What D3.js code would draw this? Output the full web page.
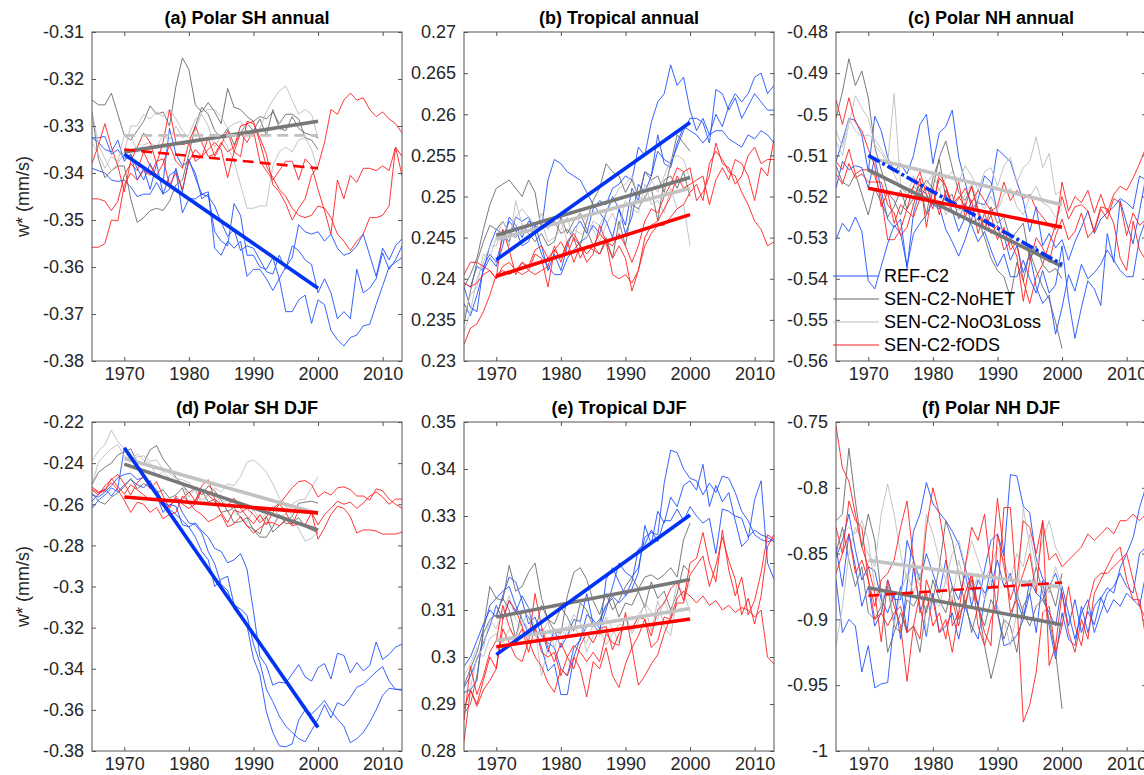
<!DOCTYPE html>
<html>
<head>
<meta charset="utf-8">
<script src="https://cdn.jsdelivr.net/npm/d3@7/dist/d3.min.js"></script>
<style>
  body { margin: 0; background: #fff; }
  svg { display: block; }
</style>
</head>
<body>
<div id="chart"></div>
<script>
// years: REF-C2 and fODS run 1965-2013, NoHET / NoO3Loss stop in 2000
const yearsFull = d3.range(1965, 2014);
const yearsShort = d3.range(1965, 2001);
const trendYears = [1970, 2000];
const xTicks = [1970, 1980, 1990, 2000, 2010];
const experiments = ['REF-C2', 'SEN-C2-NoHET', 'SEN-C2-NoO3Loss', 'SEN-C2-fODS'];
const titles = ['(a) Polar SH annual', '(b) Tropical annual', '(c) Polar NH annual',
                '(d) Polar SH DJF', '(e) Tropical DJF', '(f) Polar NH DJF'];
const yDomains = [[-0.38, -0.31], [0.23, 0.27], [-0.56, -0.48], [-0.38, -0.22], [0.28, 0.35], [-1, -0.75]];
const yTickSteps = [0.01, 0.005, 0.01, 0.02, 0.01, 0.05];

// ---- (a) Polar SH annual
const aREF = [
  [-0.3325,-0.3325,-0.3322,-0.336,-0.335,-0.337,-0.336,-0.339,-0.3415,-0.338,
   -0.341,-0.342,-0.3305,-0.336,-0.3385,-0.3375,-0.340,-0.3455,-0.3445,-0.3525,
   -0.3545,-0.3555,-0.3465,-0.349,-0.3575,-0.3575,-0.360,-0.3605,-0.358,-0.3625,
   -0.360,-0.358,-0.351,-0.3525,-0.353,-0.3525,-0.3545,-0.353,-0.356,-0.3575,
   -0.357,-0.3555,-0.353,-0.3575,-0.362,-0.356,-0.3585,-0.3555,-0.354],
  [-0.339,-0.3395,-0.340,-0.3415,-0.3418,-0.3415,-0.343,-0.345,-0.3445,-0.3445,
   -0.342,-0.3445,-0.3405,-0.3395,-0.3485,-0.3455,-0.3455,-0.3445,-0.344,-0.356,
   -0.3575,-0.3545,-0.356,-0.3545,-0.362,-0.3605,-0.3605,-0.3625,-0.365,-0.3625,
   -0.3695,-0.3695,-0.367,-0.366,-0.372,-0.367,-0.368,-0.3735,-0.3755,-0.3768,
   -0.375,-0.3745,-0.3725,-0.3722,-0.368,-0.364,-0.360,-0.359,-0.358],
  [-0.3325,-0.3335,-0.335,-0.3355,-0.333,-0.3375,-0.336,-0.3415,-0.339,-0.3435,
   -0.338,-0.3445,-0.3435,-0.339,-0.344,-0.337,-0.341,-0.3445,-0.345,-0.347,
   -0.3505,-0.3535,-0.352,-0.3565,-0.3555,-0.356,-0.3585,-0.361,-0.3615,-0.3575,
   -0.3605,-0.3555,-0.3565,-0.3585,-0.3595,-0.3655,-0.3625,-0.3655,-0.371,-0.3695,
   -0.371,-0.3605,-0.3655,-0.3645,-0.3625,-0.357,-0.3605,-0.3585,-0.3555]
];
const aNoHET = [
  [-0.3245,-0.3255,-0.3255,-0.323,-0.3275,-0.332,-0.333,-0.331,-0.329,-0.3257,
   -0.3275,-0.327,-0.330,-0.3215,-0.3155,-0.318,-0.3255,-0.327,-0.325,-0.327,
   -0.3295,-0.322,-0.326,-0.3265,-0.328,-0.329,-0.328,-0.3285,-0.327,-0.3295,
   -0.3275,-0.3275,-0.3285,-0.3325,-0.333,-0.335],
  [-0.327,-0.337,-0.341,-0.3395,-0.3385,-0.3385,-0.3455,-0.3505,-0.3495,-0.348,
   -0.3475,-0.348,-0.346,-0.3425,-0.3415,-0.336,-0.330,-0.326,-0.3275,-0.331,
   -0.3325,-0.3305,-0.334,-0.3315,-0.3295,-0.331,-0.3285,-0.332,-0.3265,-0.3305,
   -0.331,-0.328,-0.3305,-0.3315,-0.332,-0.3325]
];
const aNoO3 = [
  [-0.327,-0.334,-0.337,-0.3395,-0.338,-0.3355,-0.330,-0.330,-0.3275,-0.3285,
   -0.327,-0.328,-0.3265,-0.3285,-0.331,-0.3325,-0.331,-0.327,-0.3265,-0.3265,
   -0.328,-0.3305,-0.3295,-0.329,-0.331,-0.332,-0.3305,-0.327,-0.3245,-0.3225,
   -0.3215,-0.3245,-0.3275,-0.3265,-0.3275,-0.3325],
  [-0.3335,-0.336,-0.339,-0.3365,-0.3375,-0.332,-0.332,-0.3355,-0.334,-0.3335,
   -0.3345,-0.332,-0.333,-0.330,-0.3325,-0.332,-0.3285,-0.3275,-0.330,-0.3345,
   -0.332,-0.3345,-0.3375,-0.3425,-0.3475,-0.3475,-0.347,-0.347,-0.3385,-0.3355,
   -0.3345,-0.3355,-0.333,-0.3325,-0.335,-0.3395]
];
const aFODS = [
  [-0.338,-0.334,-0.3295,-0.3345,-0.3385,-0.344,-0.3375,-0.3345,-0.3315,-0.3335,
   -0.338,-0.3335,-0.3265,-0.3335,-0.334,-0.3335,-0.330,-0.3335,-0.3365,-0.336,
   -0.3335,-0.3355,-0.3345,-0.330,-0.3295,-0.329,-0.3335,-0.3385,-0.341,-0.3435,
   -0.345,-0.3475,-0.349,-0.3495,-0.349,-0.347,-0.3475,-0.3495,-0.353,-0.3545,
   -0.3565,-0.3545,-0.353,-0.3495,-0.3495,-0.349,-0.347,-0.3345,-0.3365],
  [-0.3558,-0.3558,-0.355,-0.350,-0.3502,-0.3425,-0.340,-0.3415,-0.3395,-0.3405,
   -0.3375,-0.337,-0.3425,-0.340,-0.3435,-0.3375,-0.335,-0.3365,-0.335,-0.3335,
   -0.335,-0.341,-0.3355,-0.3365,-0.329,-0.3295,-0.3325,-0.336,-0.3425,-0.344,
   -0.3465,-0.350,-0.3475,-0.3455,-0.3405,-0.3385,-0.3335,-0.3265,-0.3275,-0.3245,
   -0.323,-0.3245,-0.324,-0.3265,-0.328,-0.327,-0.3285,-0.3295,-0.3315],
  [-0.3455,-0.3455,-0.346,-0.348,-0.346,-0.3405,-0.338,-0.3395,-0.3355,-0.3385,
   -0.3405,-0.338,-0.334,-0.3375,-0.339,-0.3335,-0.3375,-0.3365,-0.3325,-0.3365,
   -0.334,-0.331,-0.3355,-0.3315,-0.3335,-0.331,-0.3375,-0.3395,-0.3415,-0.3395,
   -0.3375,-0.3375,-0.3415,-0.337,-0.3385,-0.3435,-0.348,-0.353,-0.3415,-0.3455,
   -0.3405,-0.342,-0.339,-0.339,-0.3395,-0.3385,-0.3395,-0.3345,-0.3405]
];
// trend 1970 -> 2000 for REF, NoHET, NoO3Loss, fODS; sig: 1 significant, 0 not, 2 borderline
const aTrend = [[-0.336, -0.3645], [-0.3355, -0.329], [-0.332, -0.332], [-0.335, -0.339]];
const aSig = [1, 1, 0, 0];

// ---- (b) Tropical annual
const bREF = [
  [0.2390,0.2365,0.2360,0.2415,0.2430,0.2420,0.2450,0.2470,0.2460,0.2440,
   0.2445,0.2465,0.2440,0.2410,0.2430,0.2410,0.2440,0.2460,0.2470,0.2455,
   0.2485,0.2495,0.2490,0.2510,0.2515,0.2525,0.2520,0.2560,0.2550,0.2590,
   0.2615,0.2625,0.2660,0.2635,0.2645,0.2605,0.2580,0.2595,0.2575,0.2600,
   0.2585,0.2610,0.2625,0.2615,0.2625,0.2645,0.2650,0.2625,0.2635],
  [0.2395,0.2390,0.2415,0.2410,0.2425,0.2415,0.2440,0.2475,0.2465,0.2450,
   0.2470,0.2465,0.2460,0.2520,0.2545,0.2540,0.2530,0.2525,0.2520,0.2505,
   0.2490,0.2480,0.2470,0.2450,0.2485,0.2455,0.2475,0.2515,0.2505,0.2525,
   0.2555,0.2545,0.2540,0.2560,0.2580,0.2595,0.2595,0.2590,0.2565,0.2630,
   0.2625,0.2605,0.2620,0.2595,0.2610,0.2625,0.2615,0.2605,0.2605],
  [0.2370,0.2355,0.2380,0.2410,0.2440,0.2460,0.2455,0.2445,0.2475,0.2470,
   0.2475,0.2455,0.2430,0.2415,0.2405,0.2405,0.2425,0.2435,0.2445,0.2450,
   0.2465,0.2455,0.2480,0.2500,0.2485,0.2465,0.2510,0.2495,0.2530,0.2525,
   0.2575,0.2540,0.2535,0.2565,0.2585,0.2580,0.2575,0.2565,0.2575,0.2580,
   0.2580,0.2570,0.2565,0.2560,0.2575,0.2570,0.2580,0.2575,0.2565]
];
const bNoHET = [
  [0.2390,0.2405,0.2425,0.2460,0.2490,0.2510,0.2515,0.2520,0.2510,0.2500,
   0.2520,0.2505,0.2460,0.2465,0.2470,0.2455,0.2460,0.2450,0.2440,0.2470,
   0.2495,0.2510,0.2540,0.2530,0.2525,0.2505,0.2520,0.2500,0.2530,0.2520,
   0.2525,0.2505,0.2540,0.2575,0.2565,0.2555],
  [0.2345,0.2385,0.2420,0.2445,0.2465,0.2460,0.2470,0.2455,0.2450,0.2460,
   0.2455,0.2445,0.2455,0.2440,0.2445,0.2475,0.2455,0.2470,0.2480,0.2460,
   0.2440,0.2430,0.2450,0.2425,0.2470,0.2440,0.2490,0.2485,0.2500,0.2510,
   0.2470,0.2520,0.2525,0.2510,0.2530,0.2500]
];
const bNoO3 = [
  [0.2335,0.2360,0.2400,0.2420,0.2440,0.2440,0.2460,0.2440,0.2495,0.2465,
   0.2465,0.2455,0.2480,0.2460,0.2475,0.2470,0.2445,0.2460,0.2455,0.2450,
   0.2470,0.2465,0.2480,0.2495,0.2510,0.2515,0.2525,0.2500,0.2495,0.2520,
   0.2505,0.2525,0.2545,0.2550,0.2545,0.2520],
  [0.2355,0.2380,0.2390,0.2430,0.2425,0.2450,0.2470,0.2455,0.2475,0.2485,
   0.2475,0.2465,0.2470,0.2445,0.2450,0.2460,0.2475,0.2445,0.2480,0.2470,
   0.2460,0.2445,0.2465,0.2480,0.2460,0.2495,0.2485,0.2480,0.2515,0.2490,
   0.2495,0.2480,0.2510,0.2485,0.2490,0.2440]
];
const bFODS = [
  [0.2405,0.2420,0.2420,0.2415,0.2410,0.2400,0.2415,0.2420,0.2410,0.2420,
   0.2415,0.2435,0.2440,0.2425,0.2435,0.2445,0.2430,0.2450,0.2425,0.2440,
   0.2435,0.2430,0.2445,0.2440,0.2455,0.2440,0.2420,0.2440,0.2470,0.2485,
   0.2480,0.2500,0.2515,0.2535,0.2530,0.2535,0.2495,0.2505,0.2525,0.2565,
   0.2540,0.2535,0.2515,0.2525,0.2550,0.2560,0.2540,0.2545,0.2545],
  [0.2395,0.2390,0.2395,0.2405,0.2410,0.2400,0.2460,0.2435,0.2405,0.2420,
   0.2410,0.2430,0.2425,0.2390,0.2435,0.2425,0.2445,0.2420,0.2440,0.2430,
   0.2440,0.2455,0.2445,0.2425,0.2440,0.2425,0.2385,0.2410,0.2450,0.2465,
   0.2470,0.2485,0.2500,0.2525,0.2510,0.2515,0.2520,0.2525,0.2490,0.2520,
   0.2535,0.2520,0.2545,0.2540,0.2525,0.2495,0.2535,0.2525,0.2570],
  [0.2320,0.2340,0.2345,0.2360,0.2380,0.2405,0.2410,0.2405,0.2410,0.2405,
   0.2410,0.2405,0.2410,0.2415,0.2440,0.2420,0.2445,0.2455,0.2440,0.2420,
   0.2430,0.2465,0.2445,0.2405,0.2400,0.2405,0.2395,0.2410,0.2440,0.2455,
   0.2465,0.2465,0.2475,0.2485,0.2490,0.2505,0.2515,0.2495,0.2540,0.2555,
   0.2545,0.2530,0.2525,0.2505,0.2490,0.2470,0.2460,0.2440,0.2445]
];
const bTrend = [[0.2423, 0.259], [0.2453, 0.2523], [0.2448, 0.251], [0.2403, 0.2478]];
const bSig = [1, 1, 1, 1];

// ---- (c) Polar NH annual
const cREF = [
  [-0.5305,-0.5265,-0.5285,-0.5250,-0.5285,-0.5405,-0.5425,-0.5370,-0.5315,-0.5270,
   -0.5290,-0.5370,-0.5290,-0.5265,-0.5245,-0.5210,-0.5225,-0.5280,-0.5310,-0.5345,
   -0.5305,-0.5255,-0.5205,-0.5150,-0.5165,-0.5240,-0.5295,-0.5355,-0.5320,-0.5385,
   -0.5340,-0.5420,-0.5460,-0.5440,-0.5535,-0.5470,-0.5390,-0.5430,-0.5365,-0.5400,
   -0.5385,-0.5365,-0.5330,-0.5355,-0.5380,-0.5395,-0.5395,-0.5300,-0.5255],
  [-0.5115,-0.5065,-0.5010,-0.5015,-0.5050,-0.5140,-0.5005,-0.5040,-0.5105,-0.5140,
   -0.5120,-0.5145,-0.5100,-0.5025,-0.5000,-0.5120,-0.5045,-0.5030,-0.4990,-0.5105,
   -0.5165,-0.5230,-0.5215,-0.5220,-0.5185,-0.5085,-0.5100,-0.5115,-0.5165,-0.5210,
   -0.5285,-0.5225,-0.5320,-0.5290,-0.5325,-0.5305,-0.5355,-0.5310,-0.5275,-0.5235,
   -0.5290,-0.5255,-0.5240,-0.5225,-0.5205,-0.5215,-0.5230,-0.5150,-0.5160],
  [-0.5180,-0.5115,-0.5135,-0.5125,-0.5130,-0.5180,-0.5105,-0.5185,-0.5255,-0.5275,
   -0.5255,-0.5375,-0.5240,-0.5180,-0.5195,-0.5220,-0.5230,-0.5195,-0.5235,-0.5285,
   -0.5250,-0.5270,-0.5310,-0.5285,-0.5330,-0.5370,-0.5340,-0.5395,-0.5395,-0.5355,
   -0.5400,-0.5435,-0.5380,-0.5435,-0.5415,-0.5320,-0.5450,-0.5545,-0.5470,-0.5405,
   -0.5425,-0.5465,-0.5290,-0.5360,-0.5210,-0.5265,-0.5315,-0.5235,-0.5150]
];
const cNoHET = [
  [-0.5010,-0.4945,-0.4865,-0.4930,-0.4895,-0.4960,-0.5080,-0.5135,-0.5190,-0.5210,
   -0.5245,-0.5200,-0.5175,-0.5190,-0.5160,-0.5180,-0.5105,-0.5065,-0.5130,-0.5190,
   -0.5210,-0.5175,-0.5230,-0.5280,-0.5225,-0.5265,-0.5250,-0.5305,-0.5285,-0.5265,
   -0.5355,-0.5320,-0.5365,-0.5385,-0.5375,-0.5400],
  [-0.5125,-0.5165,-0.5175,-0.5145,-0.5195,-0.5245,-0.5180,-0.5215,-0.5250,-0.5225,
   -0.5185,-0.5230,-0.5205,-0.5170,-0.5245,-0.5155,-0.5110,-0.5205,-0.5195,-0.5255,
   -0.5215,-0.5265,-0.5255,-0.5300,-0.5350,-0.5380,-0.5395,-0.5445,-0.5360,-0.5405,
   -0.5335,-0.5380,-0.5420,-0.5450,-0.5505,-0.5570]
];
const cNoO3 = [
  [-0.5065,-0.5100,-0.5025,-0.4955,-0.4985,-0.5010,-0.5075,-0.5095,-0.5120,-0.4950,
   -0.5170,-0.5200,-0.5150,-0.5195,-0.5170,-0.5145,-0.5185,-0.5155,-0.5140,-0.5165,
   -0.5125,-0.5150,-0.5185,-0.5140,-0.5130,-0.5175,-0.5125,-0.5105,-0.5165,-0.5130,
   -0.5115,-0.5055,-0.5130,-0.5095,-0.5195,-0.5185],
  [-0.5040,-0.5080,-0.5010,-0.5040,-0.5055,-0.5050,-0.5060,-0.5085,-0.5115,-0.5145,
   -0.5180,-0.5190,-0.5225,-0.5215,-0.5200,-0.5210,-0.5180,-0.5245,-0.5215,-0.5235,
   -0.5195,-0.5170,-0.5210,-0.5230,-0.5200,-0.5235,-0.5195,-0.5180,-0.5225,-0.5245,
   -0.5200,-0.5175,-0.5215,-0.5225,-0.5250,-0.5230]
];
const cFODS = [
  [-0.4965,-0.5025,-0.4960,-0.5020,-0.5040,-0.5085,-0.5125,-0.5225,-0.5190,-0.5265,
   -0.5220,-0.5235,-0.5250,-0.5205,-0.5175,-0.5220,-0.5155,-0.5175,-0.5220,-0.5200,
   -0.5225,-0.5175,-0.5240,-0.5280,-0.5245,-0.5305,-0.5275,-0.5330,-0.5310,-0.5405,
   -0.5460,-0.5395,-0.5365,-0.5315,-0.5270,-0.5200,-0.5255,-0.5225,-0.5220,-0.5235,
   -0.5285,-0.5230,-0.5255,-0.5205,-0.5215,-0.5295,-0.5240,-0.5270,-0.5255],
  [-0.5115,-0.5135,-0.5085,-0.5145,-0.5135,-0.5135,-0.5150,-0.5200,-0.5305,-0.5305,
   -0.5280,-0.5230,-0.5175,-0.5140,-0.5195,-0.5230,-0.5140,-0.5175,-0.5225,-0.5205,
   -0.5180,-0.5215,-0.5185,-0.5210,-0.5235,-0.5225,-0.5165,-0.5210,-0.5185,-0.5205,
   -0.5195,-0.5230,-0.5250,-0.5270,-0.5280,-0.5165,-0.5235,-0.5200,-0.5215,-0.5185,
   -0.5240,-0.5195,-0.5240,-0.5195,-0.5175,-0.5185,-0.5155,-0.5120,-0.5080],
  [-0.5145,-0.5170,-0.5120,-0.5155,-0.5145,-0.5165,-0.5165,-0.5165,-0.5220,-0.5240,
   -0.5295,-0.5275,-0.5220,-0.5155,-0.5275,-0.5180,-0.5245,-0.5185,-0.5220,-0.5165,
   -0.5250,-0.5210,-0.5290,-0.5240,-0.5290,-0.5270,-0.5330,-0.5310,-0.5345,-0.5455,
   -0.5360,-0.5300,-0.5325,-0.5360,-0.5295,-0.5255,-0.5305,-0.5285,-0.5240,-0.5300,
   -0.5280,-0.5225,-0.5230,-0.5265,-0.5350,-0.5380,-0.5260,-0.5330,-0.5355]
];
const cTrend = [[-0.51, -0.5365], [-0.5135, -0.537], [-0.5105, -0.522], [-0.518, -0.5275]];
const cSig = [2, 1, 1, 1];

// ---- (d) Polar SH DJF
const dREF = [
  [-0.2555,-0.2565,-0.2540,-0.2510,-0.2470,-0.2455,-0.2450,-0.2480,-0.2470,-0.2500,
   -0.2530,-0.2590,-0.2610,-0.2570,-0.2640,-0.2690,-0.2700,-0.2740,-0.2830,-0.2890,
   -0.2990,-0.3020,-0.3110,-0.3150,-0.3190,-0.3350,-0.3430,-0.3610,-0.3710,-0.3775,
   -0.3780,-0.3765,-0.3650,-0.3600,-0.3620,-0.3590,-0.3555,-0.3605,-0.3645,-0.3680,
   -0.3760,-0.3740,-0.3710,-0.3660,-0.3600,-0.3530,-0.3495,-0.3500,-0.3505],
  [-0.2585,-0.2550,-0.2525,-0.2560,-0.2520,-0.2330,-0.2370,-0.2430,-0.2460,-0.2520,
   -0.2545,-0.2600,-0.2625,-0.2650,-0.2680,-0.2710,-0.2690,-0.2730,-0.2760,-0.2815,
   -0.2830,-0.2885,-0.2870,-0.2840,-0.2915,-0.3120,-0.3340,-0.3385,-0.3480,-0.3465,
   -0.3470,-0.3425,-0.3380,-0.3440,-0.3460,-0.3395,-0.3375,-0.3450,-0.3325,-0.3335,
   -0.3420,-0.3370,-0.3410,-0.3385,-0.3270,-0.3355,-0.3330,-0.3295,-0.3280],
  [-0.2620,-0.2580,-0.2555,-0.2520,-0.2540,-0.2505,-0.2480,-0.2505,-0.2520,-0.2485,
   -0.2555,-0.2640,-0.2600,-0.2610,-0.2700,-0.2710,-0.2760,-0.2830,-0.2870,-0.3000,
   -0.2965,-0.2950,-0.3090,-0.3110,-0.3140,-0.3280,-0.3370,-0.3500,-0.3560,-0.3630,
   -0.3680,-0.3710,-0.3740,-0.3755,-0.3700,-0.3645,-0.3575,-0.3640,-0.3565,-0.3580,
   -0.3540,-0.3490,-0.3475,-0.3445,-0.3415,-0.3390,-0.3460,-0.3500,-0.3500]
];
const dNoHET = [
  [-0.2505,-0.2445,-0.2420,-0.2400,-0.2360,-0.2345,-0.2330,-0.2395,-0.2400,-0.2335,
   -0.2315,-0.2380,-0.2420,-0.2470,-0.2505,-0.2545,-0.2520,-0.2555,-0.2510,-0.2535,
   -0.2580,-0.2635,-0.2615,-0.2665,-0.2705,-0.2720,-0.2745,-0.2660,-0.2735,-0.2705,
   -0.2680,-0.2660,-0.2595,-0.2590,-0.2585,-0.2595],
  [-0.2545,-0.2585,-0.2600,-0.2565,-0.2545,-0.2515,-0.2475,-0.2525,-0.2500,-0.2520,
   -0.2545,-0.2530,-0.2570,-0.2555,-0.2520,-0.2600,-0.2580,-0.2530,-0.2590,-0.2575,
   -0.2640,-0.2630,-0.2690,-0.2685,-0.2665,-0.2725,-0.2760,-0.2760,-0.2710,-0.2650,
   -0.2695,-0.2690,-0.2665,-0.2710,-0.2725,-0.2740]
];
const dNoO3 = [
  [-0.2390,-0.2340,-0.2310,-0.2240,-0.2295,-0.2330,-0.2395,-0.2370,-0.2365,-0.2390,
   -0.2385,-0.2430,-0.2450,-0.2475,-0.2480,-0.2495,-0.2540,-0.2580,-0.2550,-0.2520,
   -0.2540,-0.2500,-0.2510,-0.2465,-0.2395,-0.2385,-0.2410,-0.2445,-0.2500,-0.2570,
   -0.2610,-0.2655,-0.2720,-0.2780,-0.2765,-0.2735],
  [-0.2505,-0.2395,-0.2360,-0.2330,-0.2310,-0.2365,-0.2385,-0.2355,-0.2385,-0.2400,
   -0.2465,-0.2440,-0.2475,-0.2490,-0.2505,-0.2565,-0.2525,-0.2600,-0.2555,-0.2545,
   -0.2600,-0.2580,-0.2640,-0.2660,-0.2690,-0.2625,-0.2680,-0.2645,-0.2610,-0.2660,
   -0.2650,-0.2600,-0.2580,-0.2575,-0.2520,-0.2465]
];
const dFODS = [
  [-0.2525,-0.2545,-0.2535,-0.2475,-0.2515,-0.2550,-0.2505,-0.2530,-0.2555,-0.2580,
   -0.2570,-0.2610,-0.2575,-0.2580,-0.2575,-0.2540,-0.2585,-0.2510,-0.2480,-0.2575,
   -0.2600,-0.2610,-0.2570,-0.2620,-0.2660,-0.2695,-0.2650,-0.2700,-0.2640,-0.2600,
   -0.2560,-0.2520,-0.2490,-0.2485,-0.2505,-0.2565,-0.2540,-0.2555,-0.2520,-0.2515,
   -0.2530,-0.2560,-0.2560,-0.2580,-0.2525,-0.2535,-0.2575,-0.2600,-0.2620],
  [-0.2515,-0.2540,-0.2530,-0.2495,-0.2530,-0.2580,-0.2640,-0.2590,-0.2600,-0.2640,
   -0.2615,-0.2670,-0.2650,-0.2640,-0.2560,-0.2590,-0.2630,-0.2650,-0.2685,-0.2670,
   -0.2650,-0.2710,-0.2695,-0.2660,-0.2705,-0.2740,-0.2715,-0.2690,-0.2690,-0.2705,
   -0.2675,-0.2705,-0.2695,-0.2700,-0.2640,-0.2770,-0.2715,-0.2650,-0.2610,-0.2620,
   -0.2660,-0.2740,-0.2725,-0.2725,-0.2730,-0.2745,-0.2745,-0.2745,-0.2735],
  [-0.2530,-0.2555,-0.2510,-0.2480,-0.2455,-0.2500,-0.2555,-0.2495,-0.2465,-0.2525,
   -0.2490,-0.2560,-0.2620,-0.2560,-0.2600,-0.2620,-0.2600,-0.2530,-0.2555,-0.2585,
   -0.2640,-0.2690,-0.2630,-0.2640,-0.2620,-0.2650,-0.2690,-0.2660,-0.2620,-0.2595,
   -0.2640,-0.2700,-0.2630,-0.2620,-0.2640,-0.2700,-0.2650,-0.2620,-0.2585,-0.2600,
   -0.2590,-0.2620,-0.2595,-0.2560,-0.2540,-0.2565,-0.2600,-0.2575,-0.2575]
];
const dTrend = [[-0.2325, -0.3685], [-0.2405, -0.2725], [-0.2378, -0.2645], [-0.2565, -0.2642]];
const dSig = [1, 1, 1, 1];

// ---- (e) Tropical DJF
const eREF = [
  [0.2980,0.3000,0.3035,0.3070,0.3100,0.3085,0.3130,0.3170,0.3160,0.3120,
   0.3070,0.3085,0.3045,0.3030,0.3020,0.2975,0.2960,0.3020,0.3035,0.3090,
   0.3080,0.3060,0.3100,0.3150,0.3200,0.3180,0.3170,0.3190,0.3255,0.3265,
   0.3260,0.3370,0.3440,0.3435,0.3400,0.3380,0.3375,0.3345,0.3370,0.3350,
   0.3385,0.3380,0.3350,0.3310,0.3290,0.3260,0.3250,0.3245,0.3250],
  [0.2925,0.2930,0.2950,0.3060,0.3110,0.3125,0.3140,0.3150,0.3110,0.3080,
   0.3050,0.3060,0.3020,0.2970,0.2985,0.2920,0.2920,0.3000,0.3040,0.3065,
   0.3070,0.3075,0.3110,0.3130,0.3115,0.3130,0.3145,0.3180,0.3280,0.3240,
   0.3310,0.3285,0.3340,0.3320,0.3365,0.3375,0.3355,0.3410,0.3320,0.3365,
   0.3330,0.3350,0.3290,0.3235,0.3250,0.3335,0.3375,0.3200,0.3165],
  [0.2935,0.2960,0.2995,0.3030,0.3065,0.3110,0.3080,0.3120,0.3095,0.3130,
   0.3105,0.3045,0.3060,0.3010,0.3060,0.3020,0.3045,0.3080,0.3075,0.3135,
   0.3070,0.3050,0.3165,0.3190,0.3160,0.3130,0.3160,0.3230,0.3240,0.3270,
   0.3245,0.3290,0.3290,0.3315,0.3290,0.3320,0.3300,0.3285,0.3295,0.3220,
   0.3315,0.3310,0.3300,0.3295,0.3255,0.3270,0.3260,0.3255,0.3245]
];
const eNoHET = [
  [0.2940,0.2975,0.3010,0.3060,0.3150,0.3125,0.3120,0.3195,0.3140,0.3150,
   0.3180,0.3200,0.3125,0.3080,0.3055,0.3050,0.3130,0.3180,0.3190,0.3165,
   0.3120,0.3090,0.3135,0.3100,0.3120,0.3150,0.3170,0.3145,0.3170,0.3175,
   0.3165,0.3175,0.3190,0.3170,0.3250,0.3285],
  [0.2880,0.2900,0.2960,0.3050,0.3080,0.3090,0.3125,0.3100,0.3040,0.3100,
   0.3085,0.3055,0.3110,0.3080,0.3070,0.3105,0.3085,0.3055,0.3115,0.3100,
   0.3065,0.3080,0.3110,0.3125,0.3085,0.3115,0.3110,0.3140,0.3105,0.3160,
   0.3125,0.3140,0.3100,0.3135,0.3195,0.3180]
];
const eNoO3 = [
  [0.2920,0.2935,0.3000,0.3020,0.3080,0.3060,0.3095,0.3130,0.3080,0.3065,
   0.3105,0.3060,0.2960,0.3020,0.3050,0.3025,0.3060,0.3090,0.3075,0.3010,
   0.3045,0.3060,0.3025,0.3050,0.3070,0.3065,0.3055,0.3090,0.3110,0.3055,
   0.3120,0.3065,0.3045,0.3125,0.3140,0.3095],
  [0.2960,0.2985,0.3020,0.3000,0.3040,0.3050,0.3030,0.3060,0.3040,0.3080,
   0.3060,0.3045,0.3050,0.3075,0.3020,0.3060,0.3040,0.3065,0.3045,0.3030,
   0.3070,0.3045,0.3085,0.3060,0.3030,0.3090,0.3050,0.3075,0.3115,0.3095,
   0.3080,0.3120,0.3085,0.3160,0.3130,0.3155]
];
const eFODS = [
  [0.2890,0.2930,0.2900,0.2950,0.3000,0.2975,0.3080,0.3120,0.3100,0.3065,
   0.3030,0.3135,0.3065,0.3020,0.2990,0.3030,0.3000,0.2975,0.3025,0.3050,
   0.3030,0.3060,0.3065,0.3015,0.3050,0.3065,0.3060,0.3085,0.3080,0.3045,
   0.3100,0.3115,0.3145,0.3160,0.3120,0.3200,0.3210,0.3265,0.3200,0.3160,
   0.3270,0.3185,0.3130,0.3170,0.3090,0.3120,0.3180,0.3260,0.3250],
  [0.2820,0.2930,0.2895,0.2930,0.2950,0.2975,0.3060,0.3030,0.3000,0.2990,
   0.3035,0.3000,0.2980,0.2945,0.2925,0.2975,0.2960,0.3000,0.2975,0.2915,
   0.2990,0.2975,0.3020,0.2960,0.2935,0.2985,0.3020,0.2940,0.2960,0.2985,
   0.3005,0.3050,0.3085,0.3125,0.3140,0.3130,0.3115,0.3130,0.3110,0.3120,
   0.3100,0.3110,0.3095,0.3105,0.3100,0.3085,0.3100,0.3000,0.2985],
  [0.2865,0.2980,0.2920,0.2960,0.3010,0.3035,0.3110,0.3065,0.3035,0.3060,
   0.3010,0.3065,0.3010,0.3000,0.3010,0.2960,0.3000,0.3025,0.3010,0.2990,
   0.3010,0.2990,0.3050,0.3030,0.3025,0.3095,0.3020,0.3045,0.3080,0.3020,
   0.3035,0.3085,0.3080,0.3115,0.3115,0.3175,0.3195,0.3215,0.3150,0.3195,
   0.3255,0.3205,0.3165,0.3090,0.3125,0.3070,0.3130,0.3235,0.3260]
];
const eTrend = [[0.3005, 0.3302], [0.3085, 0.3165], [0.3035, 0.3103], [0.3022, 0.3081]];
const eSig = [1, 1, 1, 1];

// ---- (f) Polar NH DJF
const fREF = [
  [-0.8530,-0.8400,-0.8200,-0.8470,-0.8700,-0.8600,-0.8630,-0.8850,-0.8950,-0.8800,
   -0.9150,-0.8740,-0.8330,-0.8200,-0.7960,-0.8120,-0.8190,-0.8250,-0.8330,-0.8430,
   -0.8610,-0.8760,-0.8900,-0.8620,-0.8400,-0.8350,-0.8520,-0.7900,-0.7910,-0.8140,
   -0.8190,-0.8540,-0.8690,-0.8750,-0.8650,-0.8800,-0.9050,-0.8850,-0.9100,-0.8940,
   -0.9040,-0.8840,-0.8760,-0.8800,-0.8610,-0.8500,-0.8380,-0.8150,-0.7990],
  [-0.8700,-0.9100,-0.9000,-0.9050,-0.9400,-0.9200,-0.9520,-0.9490,-0.9480,-0.9000,
   -0.8750,-0.9100,-0.8600,-0.8900,-0.9130,-0.8800,-0.9100,-0.9050,-0.8950,-0.9150,
   -0.8900,-0.9050,-0.9150,-0.8850,-0.8600,-0.8950,-0.9200,-0.9180,-0.9120,-0.9000,
   -0.8800,-0.9100,-0.8700,-0.9050,-0.9300,-0.8950,-0.9150,-0.9200,-0.8900,-0.9100,
   -0.8900,-0.8830,-0.8950,-0.8850,-0.8900,-0.8800,-0.8850,-0.8900,-0.8650],
  [-0.8450,-0.8750,-0.8350,-0.8600,-0.8900,-0.8750,-0.9050,-0.8950,-0.8700,-0.8850,
   -0.8850,-0.8400,-0.8550,-0.8700,-0.8500,-0.8650,-0.8800,-0.8550,-0.8750,-0.8850,
   -0.8650,-0.8900,-0.8700,-0.8800,-0.8750,-0.8550,-0.8750,-0.8650,-0.8850,-0.9000,
   -0.8700,-0.8800,-0.8850,-0.8950,-0.9050,-0.8750,-0.8950,-0.9150,-0.8950,-0.8850,
   -0.9100,-0.8950,-0.8800,-0.8750,-0.8650,-0.8750,-0.8800,-0.8500,-0.8450]
];
const fNoHET = [
  [-0.8250,-0.8200,-0.7700,-0.8100,-0.8450,-0.8200,-0.8400,-0.8800,-0.9250,-0.9100,
   -0.8950,-0.9100,-0.9050,-0.9250,-0.8900,-0.8850,-0.8600,-0.8250,-0.8400,-0.8650,
   -0.8900,-0.8700,-0.8900,-0.9200,-0.9450,-0.9250,-0.9000,-0.9050,-0.9250,-0.8900,
   -0.8800,-0.8600,-0.8800,-0.9000,-0.9250,-0.9680],
  [-0.8500,-0.8300,-0.8550,-0.8750,-0.8600,-0.8950,-0.9000,-0.8900,-0.8750,-0.9050,
   -0.9100,-0.8850,-0.8900,-0.8800,-0.8950,-0.8700,-0.8850,-0.8950,-0.8750,-0.9000,
   -0.8850,-0.9100,-0.8900,-0.9050,-0.8850,-0.8950,-0.9150,-0.9000,-0.8800,-0.8950,
   -0.9050,-0.8900,-0.8850,-0.8750,-0.8900,-0.8650]
];
const fNoO3 = [
  [-0.9200,-0.8900,-0.8500,-0.8300,-0.8400,-0.8500,-0.8600,-0.8200,-0.7970,-0.8200,
   -0.8500,-0.8700,-0.8550,-0.8750,-0.8200,-0.8350,-0.8550,-0.8700,-0.8500,-0.8400,
   -0.8600,-0.8400,-0.8550,-0.8700,-0.8600,-0.8450,-0.8550,-0.8700,-0.8500,-0.8600,
   -0.8350,-0.8600,-0.8400,-0.8250,-0.8450,-0.8550],
  [-0.8450,-0.8350,-0.8300,-0.8350,-0.8250,-0.8400,-0.8750,-0.8900,-0.8700,-0.9050,
   -0.8800,-0.8650,-0.8800,-0.8650,-0.9100,-0.8850,-0.8900,-0.8700,-0.8850,-0.8550,
   -0.8750,-0.8850,-0.8650,-0.8850,-0.8700,-0.8900,-0.9000,-0.9200,-0.8950,-0.8150,
   -0.8450,-0.8750,-0.8700,-0.8800,-0.8600,-0.8750]
];
const fFODS = [
  [-0.7530,-0.7850,-0.7950,-0.8200,-0.8450,-0.8600,-0.8800,-0.9170,-0.8700,-0.8900,
   -0.9050,-0.9470,-0.9050,-0.8800,-0.8300,-0.8000,-0.8200,-0.8500,-0.9050,-0.8950,
   -0.8600,-0.8300,-0.8400,-0.8200,-0.8650,-0.8080,-0.8500,-0.8950,-0.8850,-0.9780,
   -0.9650,-0.9400,-0.8950,-0.8900,-0.9250,-0.9050,-0.8750,-0.9050,-0.9200,-0.8900,
   -0.8700,-0.8650,-0.8650,-0.8600,-0.8550,-0.8500,-0.8700,-0.8900,-0.9000],
  [-0.8650,-0.8500,-0.8350,-0.8650,-0.8550,-0.8700,-0.8900,-0.8700,-0.8650,-0.8550,
   -0.8300,-0.8100,-0.8550,-0.8950,-0.8800,-0.9050,-0.8950,-0.9150,-0.8850,-0.9050,
   -0.8800,-0.8650,-0.8900,-0.9100,-0.9200,-0.8350,-0.8600,-0.8850,-0.8700,-0.8250,
   -0.8300,-0.8500,-0.8250,-0.8550,-0.8500,-0.8600,-0.8550,-0.8500,-0.8450,-0.8350,
   -0.8400,-0.8350,-0.8300,-0.8350,-0.8250,-0.8250,-0.8200,-0.8250,-0.8200],
  [-0.8300,-0.8500,-0.8100,-0.8250,-0.8300,-0.8700,-0.9000,-0.8950,-0.9050,-0.8950,
   -0.8900,-0.9100,-0.9050,-0.9150,-0.8700,-0.8850,-0.9100,-0.9000,-0.9250,-0.8950,
   -0.8900,-0.8650,-0.9050,-0.9200,-0.9000,-0.8850,-0.8150,-0.8150,-0.8800,-0.8650,
   -0.8500,-0.8800,-0.8250,-0.9350,-0.9200,-0.8800,-0.9100,-0.9250,-0.9000,-0.9150,
   -0.8800,-0.8700,-0.8600,-0.8500,-0.8450,-0.8700,-0.8850,-0.8850,-0.9150]
];
const fTrend = [null, [-0.876, -0.904], [-0.855, -0.8755], [-0.882, -0.872]];
const fSig = [0, 1, 1, 0];

const panels = [
  {members: [aREF, aNoHET, aNoO3, aFODS], trend: aTrend, sig: aSig},
  {members: [bREF, bNoHET, bNoO3, bFODS], trend: bTrend, sig: bSig},
  {members: [cREF, cNoHET, cNoO3, cFODS], trend: cTrend, sig: cSig},
  {members: [dREF, dNoHET, dNoO3, dFODS], trend: dTrend, sig: dSig},
  {members: [eREF, eNoHET, eNoO3, eFODS], trend: eTrend, sig: eSig},
  {members: [fREF, fNoHET, fNoO3, fFODS], trend: fTrend, sig: fSig}
];

const thinColors = ['#1f50ff', '#6b6b6b', '#bdbdbd', '#ff1f1f'];
const thickColors = ['#0033f2', '#787878', '#c2c2c2', '#ff0000'];
const font = '"Liberation Sans", Arial, Helvetica, sans-serif';

const width = 1144, height = 775;
const colX = [92, 464, 836];
const rowY = [32, 422];
const pw = 310, ph = 329;

const svg = d3.select('#chart').append('svg')
    .attr('width', width)
    .attr('height', height)
    .style('font-family', font);

const fmt = v => String(+v.toFixed(4));

panels.forEach((p, i) => {
    const x0 = colX[i % 3], y0 = rowY[Math.floor(i / 3)];
    const g = svg.append('g').attr('transform', `translate(${x0},${y0})`);

    const x = d3.scaleLinear().domain([1965, 2013]).range([0, pw]);
    const y = d3.scaleLinear().domain(yDomains[i]).range([ph, 0]);

    const step = yTickSteps[i];
    const n = Math.round((yDomains[i][1] - yDomains[i][0]) / step);
    const yTicks = d3.range(n + 1).map(k => +(yDomains[i][0] + k * step).toFixed(4));

    g.append('clipPath').attr('id', `clip${i}`)
        .append('rect').attr('width', pw).attr('height', ph);
    const plot = g.append('g').attr('clip-path', `url(#clip${i})`);

    const line = d3.line()
        .x((d, j) => x(1965 + j))
        .y(d => y(d));

    // ensemble members
    p.members.forEach((runs, k) => {
        runs.forEach(vals => {
            plot.append('path')
                .attr('d', line(vals))
                .attr('fill', 'none')
                .attr('stroke', thinColors[k])
                .attr('stroke-width', 0.9)
                .attr('stroke-linejoin', 'round');
        });
    });

    // 1970-2000 trends
    [1, 2, 0, 3].forEach(k => {
        const t = p.trend[k];
        if (!t) return;
        const sig = p.sig[k];
        plot.append('line')
            .attr('x1', x(trendYears[0])).attr('y1', y(t[0]))
            .attr('x2', x(trendYears[1])).attr('y2', y(t[1]))
            .attr('stroke', thickColors[k])
            .attr('stroke-width', sig === 0 ? 2.6 : 3.6)
            .attr('stroke-dasharray', sig === 0 ? '11,6' : sig === 2 ? '13,3,3,3' : null);
    });

    // axes, ticks inside on all four sides
    const styleAxis = sel => {
        sel.attr('font-size', 18).attr('font-family', font);
        sel.select('.domain').remove();
        sel.selectAll('line').attr('stroke', '#555');
        sel.selectAll('text').attr('fill', '#262626');
    };
    g.append('g')
        .call(d3.axisLeft(y).tickValues(yTicks).tickSize(-4).tickPadding(8).tickFormat(fmt))
        .call(styleAxis);
    g.append('g').attr('transform', `translate(${pw},0)`)
        .call(d3.axisRight(y).tickValues(yTicks).tickSize(-4).tickFormat(''))
        .call(styleAxis);
    g.append('g').attr('transform', `translate(0,${ph})`)
        .call(d3.axisBottom(x).tickValues(xTicks).tickSize(-4).tickPadding(6).tickFormat(d3.format('d')))
        .call(styleAxis);
    g.append('g')
        .call(d3.axisTop(x).tickValues(xTicks).tickSize(-4).tickFormat(''))
        .call(styleAxis);

    g.append('rect')
        .attr('x', 0).attr('y', 0)
        .attr('width', pw).attr('height', ph)
        .attr('fill', 'none')
        .attr('stroke', '#555')
        .attr('stroke-width', 1);

    g.append('text')
        .attr('x', pw / 2).attr('y', -8)
        .attr('text-anchor', 'middle')
        .attr('font-size', 18)
        .attr('font-weight', 'bold')
        .attr('fill', '#000')
        .text(titles[i]);

    if (i % 3 === 0) {
        g.append('text')
            .attr('transform', `translate(${23 - x0},${ph / 2}) rotate(-90)`)
            .attr('dy', '0.35em')
            .attr('text-anchor', 'middle')
            .attr('font-size', 18)
            .attr('fill', '#262626')
            .text('w* (mm/s)');
    }

    // legend sits inside panel (c)
    if (i === 2) {
        const legend = g.append('g').attr('transform', 'translate(-3,244)');
        experiments.forEach((name, k) => {
            legend.append('line')
                .attr('x1', 0).attr('x2', 46)
                .attr('y1', k * 23).attr('y2', k * 23)
                .attr('stroke', thinColors[k])
                .attr('stroke-width', 1);
            legend.append('text')
                .attr('x', 51).attr('y', k * 23)
                .attr('dy', '0.35em')
                .attr('font-size', 18)
                .attr('fill', '#000')
                .text(name);
        });
    }
});
</script>
</body>
</html>
